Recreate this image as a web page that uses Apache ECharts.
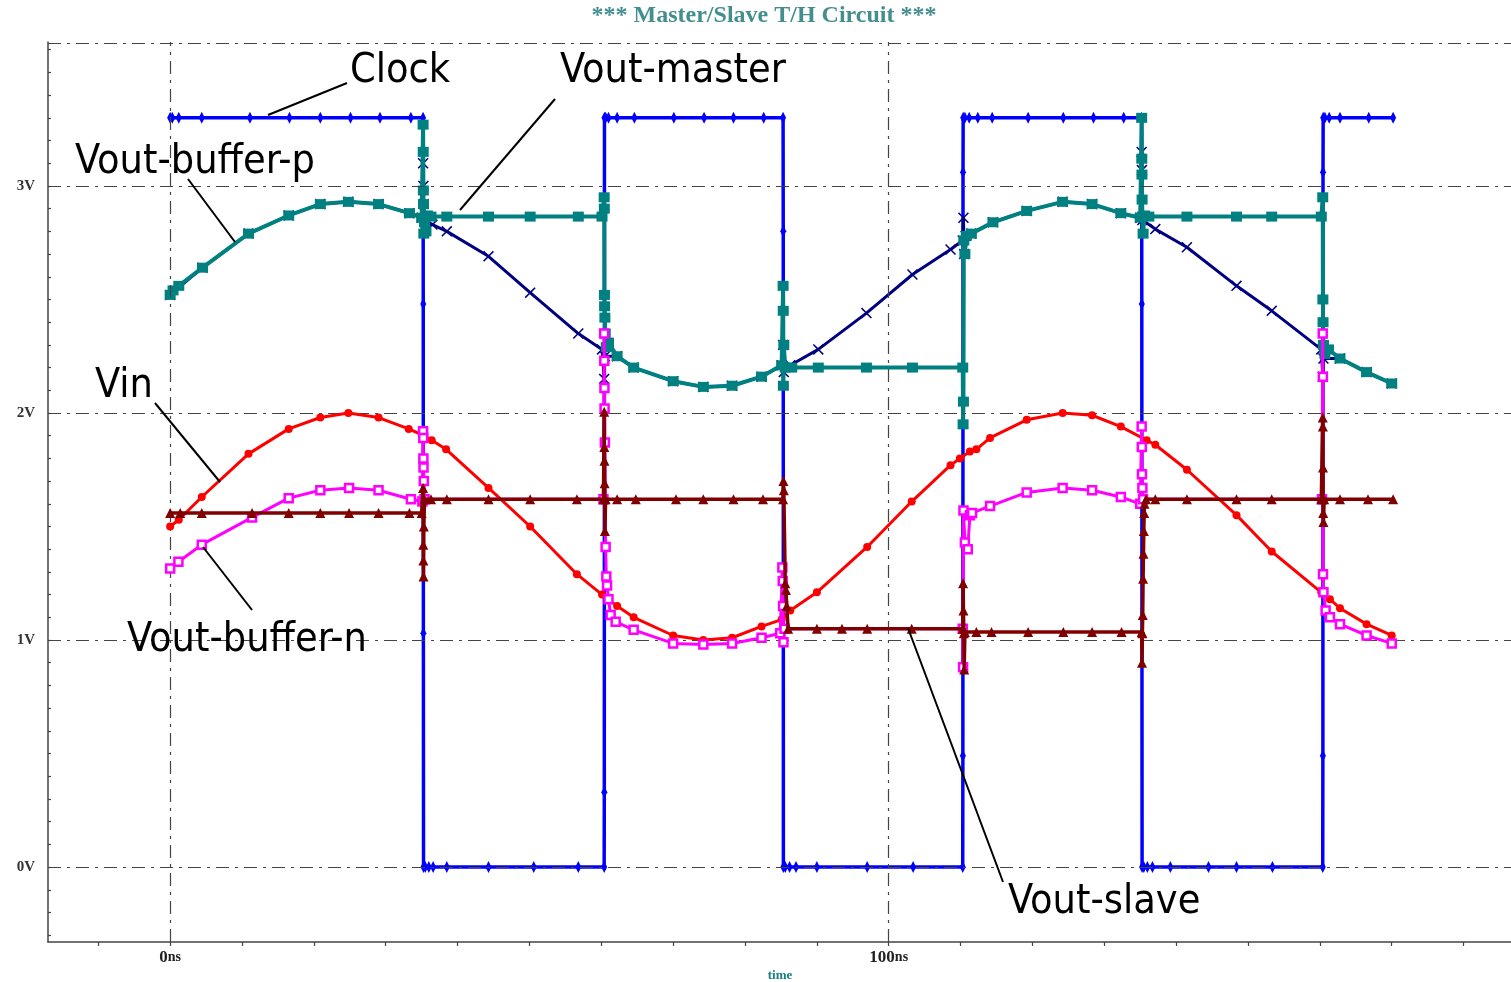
<!DOCTYPE html>
<html><head><meta charset="utf-8">
<script src="https://cdn.jsdelivr.net/npm/echarts@6/dist/echarts.min.js"></script>
<style>html,body{margin:0;padding:0;background:#fff}#c{width:1511px;height:982px}</style>
</head><body><div id="c"></div>
<script>
// ---------- DATA (time in ns, voltage in V) ----------
const clockPts = [
 [0,3.3],[0.3,3.3],[1.2,3.3],[4.4,3.3],[11.1,3.3],[16.6,3.3],[20.9,3.3],[25.1,3.3],[29.2,3.3],[33.5,3.3],[35.2,3.3],
 [35.22,2.48],[35.24,1.03],[35.26,0],
 [35.5,0],[36.0,0],[36.6,0],[38.5,0],[44.3,0],[50.6,0],[56.8,0],[60.4,0],
 [60.42,0.33],[60.44,3.3],
 [60.6,3.3],[61.0,3.3],[62.2,3.3],[64.6,3.3],[70.1,3.3],[74.3,3.3],[78.4,3.3],[82.6,3.3],[85.3,3.3],
 [85.32,2.8],[85.34,0],
 [85.6,0],[86.2,0],[87.1,0],[90.0,0],[97.0,0],[103.4,0],[110.3,0],
 [110.32,0.49],[110.34,3.06],[110.36,3.3],
 [110.6,3.3],[111.2,3.3],[112.4,3.3],[114.4,3.3],[119.4,3.3],[124.3,3.3],[128.5,3.3],[132.7,3.3],[135.2,3.3],
 [135.22,2.48],[135.24,1.03],[135.26,0],
 [135.5,0],[136.0,0],[136.7,0],[139.2,0],[144.5,0],[148.4,0],[153.4,0],[160.4,0],
 [160.42,0.49],[160.44,3.06],[160.46,3.3],
 [160.7,3.3],[161.3,3.3],[162.8,3.3],[166.8,3.3],[170.2,3.3]
];
const bufferPPts = [
 [0,2.52],[4.5,2.64],[10.9,2.79],[16.5,2.87],[20.9,2.92],[24.8,2.93],[29.0,2.92],[33.3,2.88],[35.0,2.86],
 [35.2,3.1],[35.24,3.0],[35.28,2.92],[35.5,2.84],[36.5,2.83],[38.5,2.80],[44.3,2.69],[50.1,2.53],[56.8,2.35],[60.1,2.28],
 [60.4,2.15],[60.5,2.25],[62.2,2.25],[64.5,2.20],[70.0,2.14],[74.2,2.115],[78.2,2.12],[82.3,2.16],[85.1,2.21],
 [85.3,2.30],[85.4,2.18],[86.3,2.21],[90.2,2.28],[96.9,2.44],[103.3,2.61],[108.6,2.72],[110.3,2.76],
 [110.4,2.86],[110.5,2.70],[110.7,2.78],[111.5,2.79],[114.5,2.84],[119.2,2.89],[124.2,2.93],[128.3,2.92],[132.3,2.88],[135.0,2.86],
 [135.2,3.15],[135.24,3.07],[135.3,2.85],[137.1,2.81],[141.5,2.73],[148.4,2.56],[153.3,2.45],[160.2,2.28],
 [160.4,2.16],[160.5,2.24],[162.8,2.24],[166.5,2.18],[170.0,2.13]
];
const masterPts = [
 [0,2.52],[0.4,2.54],[1.2,2.56],[4.5,2.64],[10.9,2.79],[16.5,2.87],[20.9,2.92],[24.8,2.93],[29.0,2.92],[33.3,2.88],[35.0,2.86],
 [35.2,3.27],[35.22,3.15],[35.24,2.98],[35.26,2.92],[35.3,2.79],[35.4,2.84],[35.6,2.80],[35.8,2.87],
 [36.3,2.865],[38.5,2.865],[44.3,2.865],[50.1,2.865],[56.8,2.865],[60.1,2.865],
 [60.4,2.95],[60.42,2.90],[60.44,2.52],[60.46,2.47],[60.5,2.42],[60.55,2.35],[60.7,2.29],[61.0,2.31],
 [62.2,2.25],[64.5,2.20],[70.0,2.14],[74.2,2.115],[78.2,2.12],[82.3,2.16],[85.1,2.21],
 [85.3,2.56],[85.32,2.45],[85.34,2.12],[85.4,2.30],[85.6,2.20],
 [86.5,2.20],[90.2,2.20],[96.9,2.20],[103.3,2.20],[110.3,2.20],
 [110.35,1.95],[110.4,2.05],[110.45,2.76],[110.6,2.70],[110.8,2.78],
 [111.5,2.79],[114.5,2.84],[119.2,2.89],[124.2,2.93],[128.3,2.92],[132.3,2.88],[135.0,2.86],
 [135.2,3.30],[135.22,3.12],[135.24,3.05],[135.26,2.94],[135.3,2.865],[135.4,2.79],[135.6,2.87],
 [136.2,2.865],[141.5,2.865],[148.4,2.865],[153.3,2.865],[160.2,2.865],
 [160.4,2.95],[160.42,2.50],[160.44,2.40],[160.5,2.30],[160.7,2.26],[161.2,2.28],
 [162.8,2.24],[166.5,2.18],[170.0,2.13]
];
const vinPts = [
 [0,1.50],[1.2,1.53],[4.4,1.63],[10.9,1.82],[16.5,1.93],[20.9,1.98],[24.8,2.00],[29.0,1.98],[33.2,1.93],[35.3,1.90],
 [36.4,1.88],[38.4,1.84],[44.3,1.67],[50.1,1.50],[56.6,1.29],[60.1,1.20],[62.2,1.15],[64.5,1.10],[70.0,1.02],
 [74.2,1.00],[78.2,1.01],[82.3,1.06],[85.1,1.09],[86.3,1.13],[90.0,1.21],[97.0,1.41],[103.2,1.61],[108.6,1.77],
 [109.9,1.80],[111.3,1.83],[112.2,1.84],[114.1,1.89],[119.2,1.97],[124.2,2.00],[128.3,1.99],[132.3,1.94],
 [135.9,1.88],[137.1,1.86],[141.5,1.75],[148.4,1.55],[153.3,1.39],[160.2,1.21],[161.4,1.18],[162.8,1.14],
 [166.5,1.07],[170.0,1.02]
];
const bufferNPts = [
 [0,1.315],[1.15,1.345],[4.4,1.42],[11.4,1.54],[16.5,1.625],[20.9,1.66],[24.9,1.67],[29.0,1.66],[33.5,1.62],[35.1,1.61],
 [35.2,1.92],[35.22,1.89],[35.24,1.80],[35.26,1.76],[35.3,1.70],[35.4,1.62],[60.3,1.62],
 [60.4,2.35],[60.42,2.23],[60.44,2.11],[60.46,2.02],[60.5,1.87],[60.6,1.41],[60.7,1.28],[60.8,1.24],[61.0,1.18],[61.3,1.11],
 [62.0,1.08],[64.5,1.045],[70.0,0.985],[74.2,0.98],[78.2,0.985],[82.3,1.01],[84.9,1.03],
 [85.2,1.32],[85.25,1.26],[85.3,1.15],[85.35,0.99],[85.5,1.05],[110.3,1.05],
 [110.35,0.88],[110.4,1.57],[110.6,1.43],[111.0,1.40],[111.3,1.55],[111.6,1.56],
 [114.1,1.59],[119.2,1.65],[124.2,1.67],[128.3,1.66],[132.3,1.63],[135.0,1.60],
 [135.2,1.94],[135.22,1.85],[135.24,1.73],[135.3,1.67],[135.4,1.62],[160.3,1.62],
 [160.4,2.35],[160.42,2.16],[160.44,1.29],[160.5,1.21],[160.8,1.13],[161.4,1.10],
 [162.8,1.07],[166.5,1.02],[170.0,0.985]
];
const slavePts = [
 [0,1.56],[1.4,1.56],[4.4,1.56],[11.4,1.56],[16.5,1.56],[20.9,1.56],[24.9,1.56],[29.0,1.56],[33.3,1.56],[35.0,1.56],
 [35.2,1.67],[35.22,1.42],[35.24,1.35],[35.26,1.28],[35.3,1.50],[35.4,1.62],
 [36.3,1.62],[38.5,1.62],[44.3,1.62],[50.1,1.62],[56.6,1.62],[60.3,1.62],
 [60.4,2.005],[60.42,1.85],[60.44,1.79],[60.46,1.69],[60.5,1.48],[60.6,1.62],
 [62.2,1.62],[64.8,1.62],[70.4,1.62],[74.2,1.62],[78.4,1.62],[82.5,1.62],[85.3,1.62],
 [85.35,1.70],[85.4,1.66],[85.6,1.25],[85.7,1.22],[85.8,1.15],[86.0,1.05],
 [90.0,1.05],[93.5,1.05],[97.0,1.05],[103.2,1.05],[110.3,1.05],
 [110.35,1.25],[110.4,1.13],[110.45,1.03],[110.5,0.87],[110.6,1.035],
 [112.2,1.035],[114.3,1.035],[119.4,1.035],[124.3,1.035],[128.3,1.035],[132.4,1.035],[135.2,1.035],
 [135.25,0.90],[135.3,1.03],[135.35,1.11],[135.4,1.27],[135.45,1.38],[135.5,1.48],[135.55,1.56],[135.6,1.60],[135.8,1.62],
 [137.1,1.62],[141.5,1.62],[148.4,1.62],[153.3,1.62],[160.2,1.62],
 [160.4,1.98],[160.42,1.94],[160.44,1.76],[160.46,1.56],[160.5,1.52],[160.6,1.62],
 [162.8,1.62],[166.7,1.62],[170.2,1.62]
];
// axes / ticks
const X_MIN = -17, X_MAX = 186.6, Y_MIN = -0.33, Y_MAX = 3.634;
const xTickValues = [-10,0,10,20,30,40,50,60,70,80,90,100,110,120,130,140,150,160,170,180];
const xLabelValues = [0,100];
const yLabelValues = [0,1,2,3];
const yTickValues = []; for (let i = -3; i <= 36; i++) yTickValues.push(i / 10);
const gridXValues = [0,100];
const gridYValues = [0,1,2,3];
const titleText = '*** Master/Slave T/H Circuit ***';
const xName = 'time';

// ---------- STYLE ----------
const DASHDOT = [13,6,3,6];
const AX = '#444';
const XSYM = 'path://M1,0L5,4L9,0L10,1L6,5L10,9L9,10L5,6L1,10L0,9L4,5L0,1Z';
const ANNOT_FONT = '"DejaVu Sans Condensed","DejaVu Sans",sans-serif';
const annotations = [
 {text:'Clock', x:350, y:71, line:[347,83,268,115]},
 {text:'Vout-master', x:560, y:71, line:[555,99,460,210]},
 {text:'Vout-buffer-p', x:75, y:162, line:[188,179,235,242]},
 {text:'Vin', x:95, y:386, line:[155,403,220,482]},
 {text:'Vout-buffer-n', x:127, y:640, line:[203,547,252,610]},
 {text:'Vout-slave', x:1008, y:902, line:[908,628,1003,882]}
];

function lineSeries(name, pts, color, width, symbol, size, z, extraItem) {
  return {
    name, type:'line', data: pts, z, showAllSymbol:true, symbol, symbolSize:size,
    lineStyle:{color, width}, itemStyle: Object.assign({color}, extraItem||{}),
    animation:false, silent:true, emphasis:{disabled:true}
  };
}

const chart = echarts.init(document.getElementById('c'), null, {renderer:'canvas'});
const graphics = [];
graphics.push({type:'text', style:{text:titleText, x:764, y:16, align:'center', verticalAlign:'middle',
  font:'bold 24px "Liberation Serif", serif', fill:'#448e8e'}});
graphics.push({type:'text', style:{text:xName, x:780, y:976, align:'center', verticalAlign:'middle',
  font:'bold 13px "Liberation Serif", serif', fill:'#148080'}});
annotations.forEach(a => {
  graphics.push({type:'line', shape:{x1:a.line[0],y1:a.line[1],x2:a.line[2],y2:a.line[3]}, style:{stroke:'#000', lineWidth:2}, z:100});
  graphics.push({type:'text', style:{text:a.text, x:a.x, y:a.y, verticalAlign:'middle', align:'left',
    font:'41px ' + ANNOT_FONT, fill:'#000'}, z:100});
});

chart.setOption({
  backgroundColor:'#fff',
  animation:false,
  grid:{left:48, right:0, top:42, bottom:40, containLabel:false, outerBoundsMode:'none'},
  xAxis:{type:'value', min:X_MIN, max:X_MAX,
    axisLine:{show:true, onZero:false, lineStyle:{color:AX, width:1.5}},
    axisTick:{show:true, customValues:xTickValues, length:4, inside:false, lineStyle:{color:AX, width:1.2}},
    axisLabel:{show:true, customValues:xLabelValues, margin:7,
      formatter: v => '{n|' + v + '}{u|ns}',
      rich:{n:{fontFamily:'"Liberation Serif", serif', fontWeight:'bold', fontSize:17, color:'#222'},
            u:{fontFamily:'"Liberation Serif", serif', fontWeight:'bold', fontSize:14, color:'#222'}}},
    splitLine:{show:false}},
  yAxis:{type:'value', min:Y_MIN, max:Y_MAX,
    axisLine:{show:true, onZero:false, lineStyle:{color:AX, width:1.5}},
    axisTick:{show:true, customValues:yTickValues, length:3, inside:true, lineStyle:{color:AX, width:1.2}},
    axisLabel:{show:true, customValues:yLabelValues, margin:13, formatter: v => v + 'V',
      fontFamily:'"Liberation Serif", serif', fontWeight:'bold', fontSize:15, color:'#333'},
    splitLine:{show:false}},
  series:[
    {type:'line', data:[], z:1, silent:true, animation:false,
     markLine:{silent:true, animation:false, symbol:['none','none'], label:{show:false}, emphasis:{disabled:true},
       lineStyle:{color:AX, width:1.2, type:DASHDOT},
       data:[...gridXValues.map(v=>({xAxis:v})), ...gridYValues.map(v=>({yAxis:v})), {yAxis:Y_MAX}]}},
    lineSeries('Clock', clockPts, '#0000ff', 3.5, 'diamond', [6,12], 2),
    lineSeries('Vout-buffer-p', bufferPPts, '#000080', 3, XSYM, 11, 3),
    lineSeries('Vout-master', masterPts, '#008080', 4, 'rect', [11,10], 4),
    lineSeries('Vin', vinPts, '#ff0000', 3, 'circle', 8, 5),
    lineSeries('Vout-buffer-n', bufferNPts, '#ff00ff', 3, 'rect', 8, 6, {color:'#ffffff', borderColor:'#ff00ff', borderWidth:2.5}),
    lineSeries('Vout-slave', slavePts, '#800000', 3.5, 'triangle', 10, 7)
  ],
  graphic: graphics
});
</script>
</body></html>
